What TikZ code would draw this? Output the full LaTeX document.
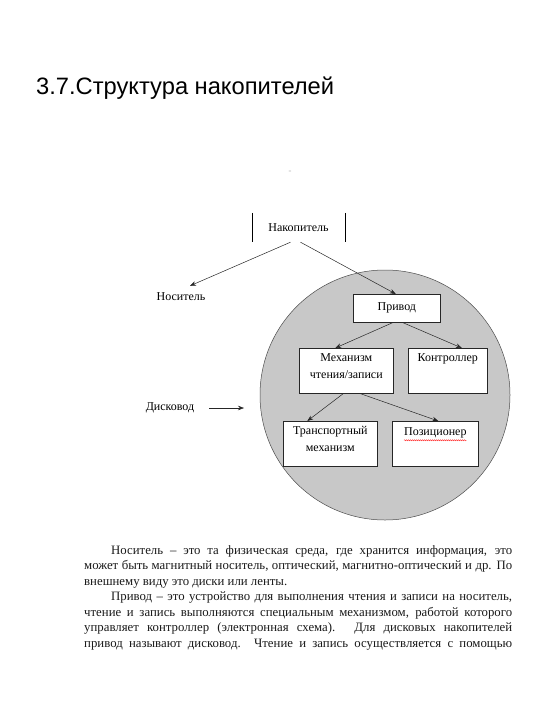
\documentclass[tikz,border=0pt]{standalone}
\usepackage{fontspec}
\setmainfont{Liberation Serif}
\newfontfamily\titlefont{Liberation Sans}
\usetikzlibrary{arrows.meta,decorations.pathmorphing}
\definecolor{discgray}{RGB}{200,200,200}
\tikzset{
  box/.style={draw=black!85, line width=0.6pt, fill=white, inner sep=0pt, anchor=north west},
  arr/.style={-{Stealth[length=6pt,width=4.5pt]}, line width=0.5pt, black!85},
  lbl/.style={font=\fontsize{12}{13}\selectfont, inner sep=0pt},
  bodyline/.style={anchor=base west, inner sep=0pt, font=\fontsize{12.8}{15}\selectfont, black!90}
}
\newcommand{\boxtext}[3]{\parbox[c][#2][t]{#1}{\centering\fontsize{12}{17}\selectfont\vspace{5pt}#3\par}}
\begin{document}
\begin{tikzpicture}[x=1pt,y=-1pt]
\useasboundingbox (0,0) rectangle (540,720);
% title
\node[anchor=base west, inner sep=0pt, font=\titlefont\fontsize{23.7}{26}\selectfont] (title) at (36,94) {3.7.Структура накопителей};
% tiny mark
\node[inner sep=0pt, font=\tiny, text=black!40] (mark) at (290,172) {=};
% disc
\node[circle, draw=black!70, line width=0.5pt, fill=discgray, minimum size=250pt, inner sep=0pt] (disc) at (385,395) {};
% top node
\node[lbl, minimum width=93pt, minimum height=29pt] (nak) at (298.5,227.5) {Накопитель};
\draw[line width=0.6pt] (nak.north west) -- (nak.south west);
\draw[line width=0.6pt] (nak.north east) -- (nak.south east);
\node[lbl] (nos) at (181,297) {Носитель};
\node[lbl] (disk) at (170,408) {Дисковод};
\coordinate (diskend) at (244,408);
% boxes
\node[box] (priv) at (353,294) {\parbox[c][28pt][c]{87pt}{\centering\fontsize{12}{13}\selectfont Привод}};
\node[box] (mech) at (299,348) {\boxtext{94pt}{45pt}{Механизм\\чтения/записи}};
\node[box] (kontr) at (408,348) {\boxtext{79pt}{45pt}{Контроллер}};
\node[box] (trans) at (283,421) {\boxtext{94pt}{45pt}{Транспортный\\механизм}};
\node[box] (poz) at (392,421) {\boxtext{86pt}{45pt}{\phantom{П}}};
\node[lbl, anchor=base] (pozt) at ([yshift=-14.5pt]poz.north) {Позиционер};
\draw[red!75, line width=0.4pt, decorate, decoration={snake, amplitude=0.5pt, segment length=2pt}]
  ([yshift=-2pt]pozt.south west) -- ([yshift=-2pt]pozt.south east);
% connectors
\draw[arr] ([xshift=-8pt]nak.south) -- ([xshift=9pt,yshift=7pt]nos.north);
\draw[arr] ([xshift=2pt]nak.south) -- ([xshift=-1pt]priv.north);
\draw[arr] ([xshift=-4pt]priv.south) -- ([xshift=-11pt]mech.north);
\draw[arr] ([xshift=6pt]priv.south) -- ([xshift=14pt]kontr.north);
\draw[arr] ([xshift=-3pt]mech.south) -- ([xshift=-23pt]trans.north);
\draw[arr] ([xshift=14pt]mech.south) -- ([xshift=3pt]poz.north);
\draw[arr] ([xshift=15pt]disk.east) -- (diskend);
% body text
\node[bodyline] (l1) at (84,554) {\makebox[428pt][s]{\hspace{27pt}Носитель – это та физическая среда, где хранится информация, это}};
\node[bodyline] (l2) at (84,569.5) {\makebox[428pt][s]{может быть магнитный носитель, оптический, магнитно-оптический и др. По}};
\node[bodyline] (l3) at (84,585) {внешнему виду это диски или ленты.};
\node[bodyline] (l4) at (84,600.5) {\makebox[428pt][s]{\hspace{27pt}Привод – это устройство для выполнения чтения и записи на носитель,}};
\node[bodyline] (l5) at (84,616) {\makebox[428pt][s]{чтение и запись выполняются специальным механизмом, работой которого}};
\node[bodyline] (l6) at (84,631.5) {\makebox[428pt][s]{управляет контроллер (электронная схема). Для дисковых накопителей}};
\node[bodyline] (l7) at (84,647) {\makebox[428pt][s]{привод называют дисковод. Чтение и запись осуществляется с помощью}};
\end{tikzpicture}
\end{document}
